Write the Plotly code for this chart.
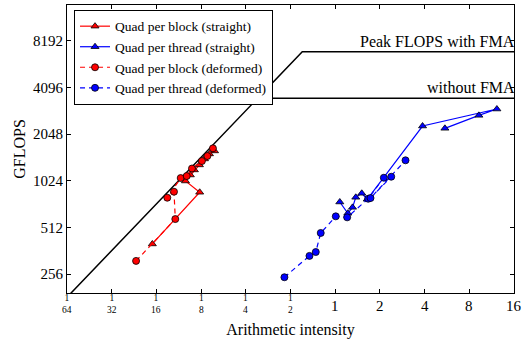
import numpy as np
import plotly.graph_objects as go

# ---- data ----
red_straight_ai = [0.0587, 0.1223, 0.0981, 0.1058, 0.1127, 0.1218, 0.1317, 0.1423, 0.1540]
red_straight_gf = [400, 862, 1019, 1114, 1201, 1294, 1414, 1524, 1593]

blue_straight_ai = [1.074, 1.216, 1.308, 1.376, 1.510, 1.643, 3.875, 12.27, 9.28, 5.48]
blue_straight_gf = [746, 631, 689, 800, 849, 777, 2306, 2968, 2702, 2229]

red_deformed_ai = [0.0456, 0.0838, 0.0821, 0.0740, 0.0911, 0.1000, 0.1085, 0.1266, 0.1378, 0.1502]
red_deformed_gf = [311, 579, 869, 795, 1065, 1097, 1227, 1371, 1477, 1656]

blue_deformed_ai = [0.455, 0.671, 0.740, 0.799, 1.009, 1.204, 1.668, 2.126, 2.384, 1.729, 2.975]
blue_deformed_gf = [244, 335, 355, 471, 603, 594, 783, 1070, 1086, 791, 1386]

bandwidth = 11600.0      # GFLOPS per unit arithmetic intensity (roofline slope)
peak_fma = 6960.0
peak_nofma = 3480.0

x_tick_vals = [1/64, 1/32, 1/16, 1/8, 1/4, 1/2, 1, 2, 4, 8, 16]
x_tick_labels = ["1/64", "1/32", "1/16", "1/8", "1/4", "1/2", "1", "2", "4", "8", "16"]
y_tick_vals = [256, 512, 1024, 2048, 4096, 8192]
y_tick_labels = ["256", "512", "1024", "2048", "4096", "8192"]

x_min, x_max = 1/64, 16
y_min, y_max = 2 ** 7.593, 2 ** 13.765

FONT = "Liberation Serif"

fig = go.Figure()

# roofline
ridge_fma = peak_fma / bandwidth
ridge_nofma = peak_nofma / bandwidth
fig.add_trace(go.Scatter(x=[x_min, ridge_fma, x_max], y=[bandwidth * x_min, peak_fma, peak_fma],
                         mode="lines", line=dict(color="black", width=1.5),
                         showlegend=False, hoverinfo="skip"))
fig.add_trace(go.Scatter(x=[ridge_nofma, x_max], y=[peak_nofma, peak_nofma],
                         mode="lines", line=dict(color="black", width=1.5),
                         showlegend=False, hoverinfo="skip"))

mk_line = dict(color="black", width=0.8)
fig.add_trace(go.Scatter(x=red_straight_ai, y=red_straight_gf, mode="lines+markers",
                         name="Quad per block (straight)",
                         line=dict(color="#ff0000", width=1.2),
                         marker=dict(symbol="triangle-up", size=7, color="#ff0000", line=mk_line)))
fig.add_trace(go.Scatter(x=blue_straight_ai, y=blue_straight_gf, mode="lines+markers",
                         name="Quad per thread (straight)",
                         line=dict(color="#0000ff", width=1.2),
                         marker=dict(symbol="triangle-up", size=7, color="#0000ff", line=mk_line)))
fig.add_trace(go.Scatter(x=red_deformed_ai, y=red_deformed_gf, mode="lines+markers",
                         name="Quad per block (deformed)",
                         line=dict(color="#ff0000", width=1.2, dash="5px,4px"),
                         marker=dict(symbol="circle", size=7, color="#ff0000", line=mk_line)))
fig.add_trace(go.Scatter(x=blue_deformed_ai, y=blue_deformed_gf, mode="lines+markers",
                         name="Quad per thread (deformed)",
                         line=dict(color="#0000ff", width=1.2, dash="5px,4px"),
                         marker=dict(symbol="circle", size=7, color="#0000ff", line=mk_line)))

annotations = []
shapes = []
# x tick labels (fractions drawn as stacked text with a bar)
for v, lab in zip(x_tick_vals, x_tick_labels):
    xv = np.log10(v)
    if "/" in lab:
        num, den = lab.split("/")
        annotations.append(dict(x=xv, y=0, xref="x", yref="paper", text=f"{num}<br>{den}",
                                showarrow=False, xanchor="center", yanchor="middle", yshift=-10.5,
                                borderpad=0,
                                font=dict(family=FONT, size=9.5, color="black")))
        w = 4 + 3 * len(den)
        shapes.append(dict(type="line", xref="x", yref="paper", xsizemode="pixel",
                           ysizemode="pixel", xanchor=xv, yanchor=0,
                           x0=-w / 2, x1=w / 2, y0=-10.5, y1=-10.5,
                           line=dict(color="black", width=0.7)))
    else:
        annotations.append(dict(x=xv, y=0, xref="x", yref="paper", text=lab,
                                showarrow=False, xanchor="center", yanchor="middle", yshift=-12.5,
                                font=dict(family=FONT, size=15, color="black")))

annotations.append(dict(x=np.log10(x_max), y=np.log10(peak_fma), xref="x", yref="y",
                        text="Peak FLOPS with FMA", showarrow=False, xanchor="right",
                        yanchor="bottom", yshift=0, xshift=3,
                        font=dict(family=FONT, size=16, color="black")))
annotations.append(dict(x=np.log10(x_max), y=np.log10(peak_nofma), xref="x", yref="y",
                        text="without FMA", showarrow=False, xanchor="right",
                        yanchor="bottom", yshift=0, xshift=3,
                        font=dict(family=FONT, size=16, color="black")))

fig.update_layout(
    width=530, height=340,
    margin=dict(l=67, r=16, t=5, b=47),
    paper_bgcolor="white", plot_bgcolor="white",
    font=dict(family=FONT, size=15, color="black"),
    annotations=annotations,
    shapes=shapes,
    legend=dict(x=0.0157, y=0.983, xanchor="left", yanchor="top",
                bgcolor="white", bordercolor="black", borderwidth=1,
                font=dict(family=FONT, size=13.5, color="black"),
                tracegroupgap=0),
    xaxis=dict(type="log", range=[np.log10(x_min), np.log10(x_max)],
               tickvals=x_tick_vals, showticklabels=False,
               ticks="inside", ticklen=4, tickcolor="black", mirror="ticks",
               showline=True, linecolor="black", linewidth=1, showgrid=False, zeroline=False,
               title=dict(text="Arithmetic intensity", standoff=30,
                          font=dict(family=FONT, size=16))),
    yaxis=dict(type="log", range=[np.log10(y_min), np.log10(y_max)],
               tickvals=y_tick_vals, ticktext=y_tick_labels,
               ticks="inside", ticklen=4, tickcolor="black", mirror="ticks",
               showline=True, linecolor="black", linewidth=1, showgrid=False, zeroline=False,
               tickfont=dict(family=FONT, size=15),
               title=dict(text="GFLOPS", standoff=3, font=dict(family=FONT, size=16))),
)

fig.write_html("out.html")
